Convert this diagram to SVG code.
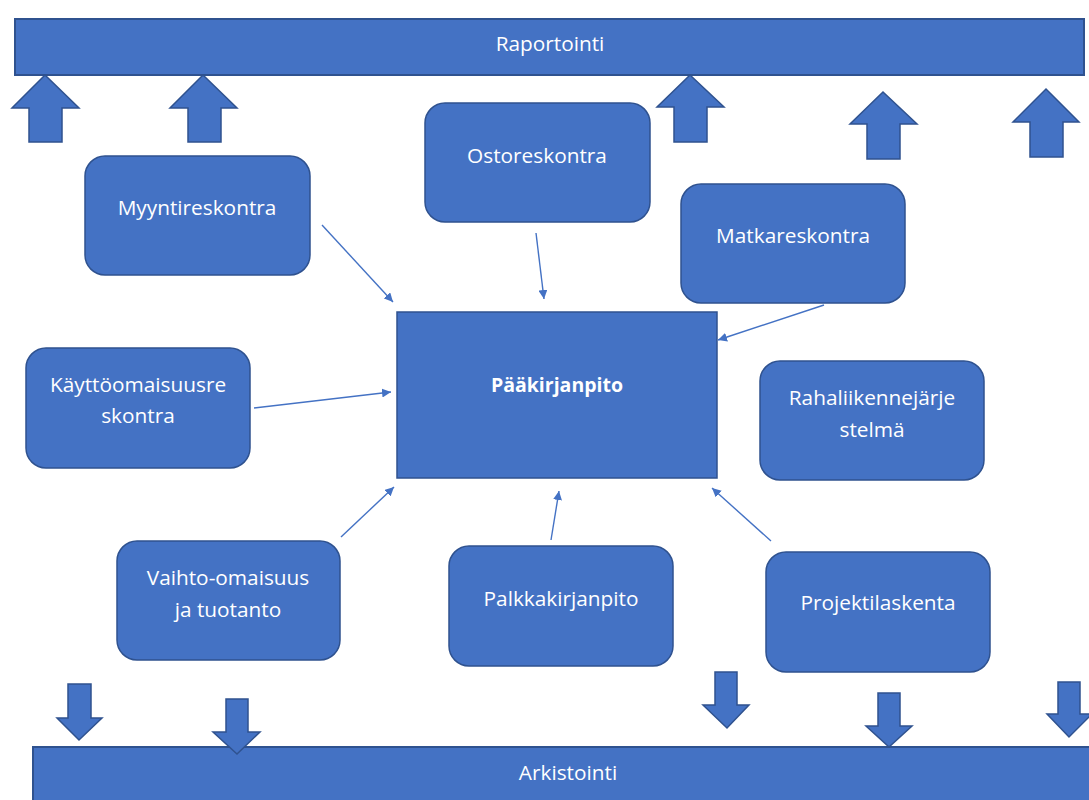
<svg xmlns="http://www.w3.org/2000/svg" width="1089" height="800" viewBox="0 0 1089 800">
<defs>
<marker id="ah" viewBox="0 0 10 10" refX="10" refY="5" markerWidth="9" markerHeight="9" markerUnits="userSpaceOnUse" orient="auto">
<path d="M0,0 L10,5 L0,10 z" fill="#4472C4"/>
</marker>
<style>
.sh{fill:#4472C4;stroke:#2F528F;stroke-width:1.5}
.bar{fill:#4472C4;stroke:#2F528F;stroke-width:2}
.t{font-family:"Open Sans","Liberation Sans",sans-serif;font-size:20.8px;fill:#FFFFFF;text-anchor:middle}
.b{font-weight:bold;font-size:19.5px}
.c{stroke:#4472C4;stroke-width:1.4;fill:none;marker-end:url(#ah)}
</style>
</defs>
<rect width="1089" height="800" fill="#FFFFFF"/>

<g id="raportointi">
<rect class="bar" x="15" y="19" width="1069" height="56"/>
<text class="t" x="550" y="51">Raportointi</text>
</g>
<g id="arkistointi">
<rect class="bar" x="33" y="747" width="1070" height="60"/>
<text class="t" x="568" y="780">Arkistointi</text>
</g>

<g id="up-arrows">
<polygon class="sh" points="45,75 79,108 62,108 62,142 29,142 29,108 12,108"/>
<polygon class="sh" points="203,75 237,108 221,108 221,142 188,142 188,108 170,108"/>
<polygon class="sh" points="690,75 724,107 707,107 707,142 674,142 674,107 657,107"/>
<polygon class="sh" points="883,92 917,124 900,124 900,159 867,159 867,124 850,124"/>
<polygon class="sh" points="1046,89 1079,122 1063,122 1063,157 1030,157 1030,122 1013,122"/>
</g>
<g id="down-arrows">
<polygon class="sh" points="68,684 91,684 91,718 102,718 79,740 57,718 68,718"/>
<polygon class="sh" points="226,699 248,699 248,732 260,732 237,754 213,732 226,732"/>
<polygon class="sh" points="715,672 737,672 737,705 749,705 727,728 703,705 715,705"/>
<polygon class="sh" points="878,693 900,693 900,726 912,726 889,747 866,726 878,726"/>
<polygon class="sh" points="1058,682 1080,682 1080,714 1092,714 1069,737 1047,714 1058,714"/>
</g>

<g id="paakirjanpito">
<rect class="sh" x="397" y="312" width="320" height="166"/>
<text class="t b" x="557" y="392">Pääkirjanpito</text>
</g>
<g id="myyntireskontra">
<rect class="sh" x="85" y="156" width="225" height="119" rx="20"/>
<text class="t" x="197" y="215">Myyntireskontra</text>
</g>
<g id="ostoreskontra">
<rect class="sh" x="425" y="103" width="225" height="119" rx="20"/>
<text class="t" x="537" y="163">Ostoreskontra</text>
</g>
<g id="matkareskontra">
<rect class="sh" x="681" y="184" width="224" height="119" rx="20"/>
<text class="t" x="793" y="243">Matkareskontra</text>
</g>
<g id="kayttoomaisuusreskontra">
<rect class="sh" x="26" y="348" width="224" height="120" rx="20"/>
<text class="t" x="138" y="392">Käyttöomaisuusre</text>
<text class="t" x="138" y="423">skontra</text>
</g>
<g id="rahaliikennejarjestelma">
<rect class="sh" x="760" y="361" width="224" height="119" rx="20"/>
<text class="t" x="872" y="405">Rahaliikennejärje</text>
<text class="t" x="872" y="437">stelmä</text>
</g>
<g id="vaihto-omaisuus">
<rect class="sh" x="117" y="541" width="223" height="119" rx="20"/>
<text class="t" x="228" y="585">Vaihto-omaisuus</text>
<text class="t" x="228" y="617">ja tuotanto</text>
</g>
<g id="palkkakirjanpito">
<rect class="sh" x="449" y="546" width="224" height="120" rx="20"/>
<text class="t" x="561" y="606">Palkkakirjanpito</text>
</g>
<g id="projektilaskenta">
<rect class="sh" x="766" y="552" width="224" height="120" rx="20"/>
<text class="t" x="878" y="610">Projektilaskenta</text>
</g>

<g id="connectors">
<line class="c" x1="322" y1="225" x2="393" y2="302"/>
<line class="c" x1="536" y1="233" x2="544" y2="299"/>
<line class="c" x1="824" y1="305" x2="718" y2="340"/>
<line class="c" x1="254" y1="408" x2="391" y2="392"/>
<line class="c" x1="341" y1="537" x2="394" y2="487"/>
<line class="c" x1="551" y1="540" x2="559" y2="491"/>
<line class="c" x1="771" y1="541" x2="712" y2="488"/>
</g>
</svg>
